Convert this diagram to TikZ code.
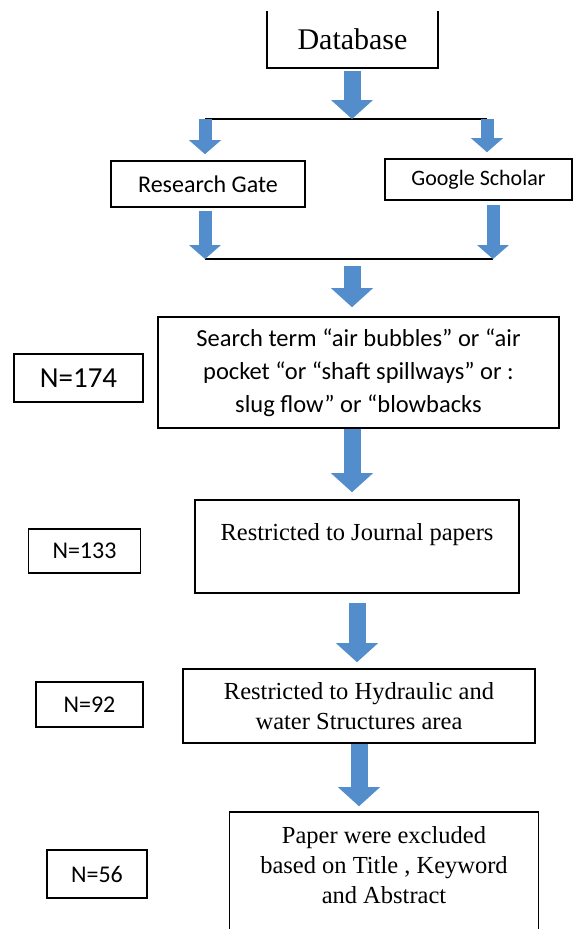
\documentclass[tikz,border=0pt]{standalone}
\usepackage{fontspec}
\setmainfont{Liberation Serif}
\newfontfamily\calibri{Carlito}
\usetikzlibrary{arrows.meta}
\definecolor{arrowblue}{RGB}{84,141,204}
\tikzstyle{stepbox} = [draw=black, line width=1.6pt, rectangle, inner sep=0pt, align=center, font=\fontsize{24.5}{30}\selectfont]
\tikzstyle{nbox} = [stepbox, font=\calibri\fontsize{24}{28}\selectfont]
\tikzstyle{bigarrow} = [draw=arrowblue, line width=17pt, -{Triangle[width=42pt, length=19pt, line width'=0pt, color=arrowblue]}]
\tikzstyle{smallarrow} = [draw=arrowblue, line width=13pt, -{Triangle[width=32pt, length=14pt, line width'=0pt, color=arrowblue]}]
\newcommand{\sans}[1]{\calibri\fontsize{#1}{1.2\dimexpr#1pt\relax}\selectfont}

\begin{document}
\begin{tikzpicture}[x=1pt, y=-1pt]
\useasboundingbox (0,0) rectangle (574,929);

% sources
\node[stepbox, draw=none, minimum width=169pt, minimum height=55pt, font=\fontsize{30}{36}\selectfont] (db) at (352.5,39.5) {Database};
\draw[line width=1.6pt] (db.north west) -- (db.south west) -- (db.south east) -- (db.north east);
\node[stepbox, font=\sans{24}, minimum width=194pt, minimum height=46pt] (rg) at (208,184) {Research Gate};
\node[stepbox, font=\sans{22}, minimum width=187pt, minimum height=41pt] (gs) at (478.5,179.5) {Google Scholar};

% steps
\node[stepbox, font=\calibri\fontsize{24.5}{33}\selectfont, minimum width=401pt, minimum height=111pt] (search) at (358.5,372.5)
  {Search term “air bubbles” or “air\\ pocket “or “shaft spillways” or :\\ slug flow” or “blowbacks};
\node[stepbox, minimum width=323.5pt, minimum height=93pt] (journal) at (357,546.5) {Restricted to Journal papers\\ \mbox{}};
\node[stepbox, minimum width=352pt, minimum height=74pt] (hyd) at (359,706) {Restricted to Hydraulic and\\ water Structures area};
\node[stepbox, draw=none, minimum width=307.5pt, minimum height=104pt] (paper) at (384,865) {Paper were excluded\\ based on Title , Keyword\\ and Abstract};
\draw[line width=1.6pt] ([yshift=-14pt]paper.south west) -- (paper.north west) -- (paper.north east) -- ([yshift=-14pt]paper.south east);

% counts
\node[nbox, font=\sans{29}, minimum width=129pt, minimum height=48pt] (n174) at (78.5,378) {N=174};
\node[nbox, minimum width=112pt, minimum height=44pt] (n133) at (84.5,551) {N=133};
\node[nbox, minimum width=107pt, minimum height=45pt] (n92) at (89.5,704.5) {N=92};
\node[nbox, minimum width=100pt, minimum height=48pt] (n56) at (97,874) {N=56};

% split and join
\coordinate (split) at (352,119);
\coordinate (splitL) at (205,119);
\coordinate (splitR) at (487,119);
\coordinate (join) at (352,259);
\coordinate (joinL) at (205,259);
\coordinate (joinR) at (493,259);
\draw[line width=1.6pt] (splitL) -- (splitR);
\draw[line width=1.6pt] (joinL) -- (joinR);

\draw[bigarrow] ([yshift=-3pt]db.south -| split) -- (split);
\draw[smallarrow] (splitL) -- ([yshift=6pt]rg.north -| splitL);
\draw[smallarrow] (splitR) -- ([yshift=6pt]gs.north -| splitR);
\draw[smallarrow] ([yshift=-3pt]rg.south -| joinL) -- (joinL);
\draw[smallarrow] ([yshift=-4pt]gs.south -| joinR) -- (joinR);
\draw[bigarrow] ([yshift=-7pt]join) -- ([yshift=9pt]search.north -| join);
\draw[bigarrow] (search.south -| join) -- ([yshift=7pt]journal.north -| join);
\draw[bigarrow] ([yshift=-9pt]journal.south) -- ([yshift=6pt]hyd.north -| journal.south);
\draw[bigarrow] (hyd.south) -- ([yshift=6pt]paper.north -| hyd.south);
\end{tikzpicture}
\end{document}
